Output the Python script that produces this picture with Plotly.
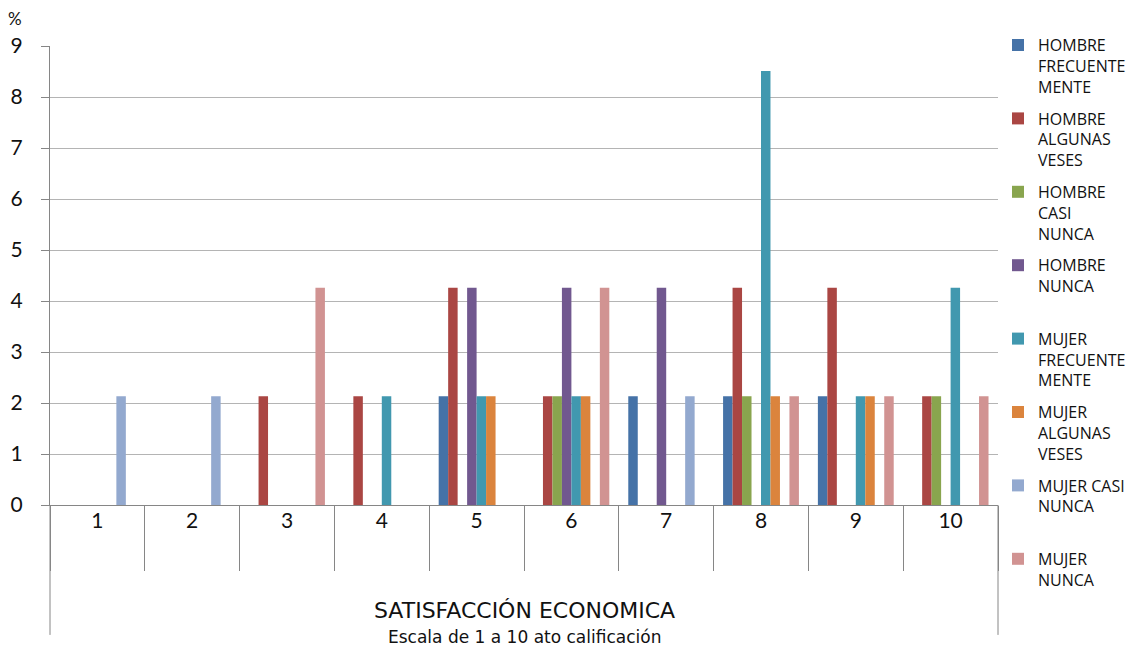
import plotly.graph_objects as go

# Calificaciones (escala de 1 a 10)
categorias = ["1", "2", "3", "4", "5", "6", "7", "8", "9", "10"]

# Porcentaje por grupo y frecuencia
hombre_frecuentemente = [0, 0, 0, 0, 2.13, 0, 2.13, 2.13, 2.13, 0]
hombre_algunas_veses = [0, 0, 2.13, 2.13, 4.26, 2.13, 0, 4.26, 4.26, 2.13]
hombre_casi_nunca = [0, 0, 0, 0, 0, 2.13, 0, 2.13, 0, 2.13]
hombre_nunca = [0, 0, 0, 0, 4.26, 4.26, 4.26, 0, 0, 0]
mujer_frecuentemente = [0, 0, 0, 2.13, 2.13, 2.13, 0, 8.51, 2.13, 4.26]
mujer_algunas_veses = [0, 0, 0, 0, 2.13, 2.13, 0, 2.13, 2.13, 0]
mujer_casi_nunca = [2.13, 2.13, 0, 0, 0, 0, 2.13, 0, 0, 0]
mujer_nunca = [0, 0, 4.26, 0, 0, 4.26, 0, 2.13, 2.13, 2.13]

series = [
    ("HOMBRE<br>FRECUENTE<br>MENTE", hombre_frecuentemente, "#4572A7"),
    ("HOMBRE<br>ALGUNAS<br>VESES", hombre_algunas_veses, "#AA4643"),
    ("HOMBRE<br>CASI<br>NUNCA", hombre_casi_nunca, "#89A54E"),
    ("HOMBRE<br>NUNCA<br> ", hombre_nunca, "#71588F"),
    ("MUJER<br>FRECUENTE<br>MENTE", mujer_frecuentemente, "#4198AF"),
    ("MUJER<br>ALGUNAS<br>VESES", mujer_algunas_veses, "#DB843D"),
    ("MUJER CASI<br>NUNCA<br> ", mujer_casi_nunca, "#93A9CF"),
    ("MUJER<br>NUNCA", mujer_nunca, "#D19392"),
]

FONT = "Lato"
fig = go.Figure()
for i, (nombre, valores, color) in enumerate(series):
    fig.add_trace(go.Bar(
        x=categorias, y=valores, name=nombre, legendgroup=f"g{i}",
        marker=dict(color=color, line=dict(width=0)),
    ))

fig.update_layout(
    width=1135, height=646,
    margin=dict(l=50, r=137, t=46, b=141, autoexpand=False),
    paper_bgcolor="white", plot_bgcolor="white",
    barmode="group", bargap=0.2, bargroupgap=0,
    font=dict(family=FONT, color="#111111"),
    legend=dict(
        x=1.0, xanchor="left", y=1.039, yanchor="top",
        valign="top", tracegroupgap=8, maxheight=640,
        font=dict(family="Open Sans", size=16, color="#111111"),
        bgcolor="rgba(0,0,0,0)",
    ),
    showlegend=True,
)

fig.update_yaxes(
    range=[0, 9], dtick=1, showgrid=True, gridcolor="#b4b4b4", gridwidth=1,
    showline=True, linecolor="#868686", linewidth=1,
    ticks="outside", ticklen=8, tickcolor="#868686",
    tickfont=dict(family=FONT, size=21, color="#111111"),
    ticklabelstandoff=14, zeroline=False,
)
fig.update_xaxes(
    type="category", showline=True, linecolor="#868686", linewidth=1,
    ticks="outside", tickson="boundaries", ticklen=65, tickcolor="#868686",
    tickfont=dict(family=FONT, size=21, color="#111111"),
    ticklabelstandoff=-3, showgrid=False,
)

# Bordes exteriores del eje de categorías
for xb in (0, 1):
    fig.add_shape(type="line", xref="paper", yref="paper",
                  x0=xb, x1=xb, y0=0, y1=-0.283,
                  line=dict(color="#868686", width=1))

fig.add_annotation(text="SATISFACCIÓN ECONOMICA", xref="paper", yref="paper",
                   x=0.5, y=-0.229, showarrow=False, xanchor="center", yanchor="middle",
                   font=dict(family="DejaVu Sans", size=22, color="#111111"))
fig.add_annotation(text="Escala de 1 a 10 ato calificación", xref="paper", yref="paper",
                   x=0.5, y=-0.287, showarrow=False, xanchor="center", yanchor="middle",
                   font=dict(family="DejaVu Sans", size=17, color="#111111"))
fig.add_annotation(text="%", xref="paper", yref="paper",
                   x=-0.037, y=1.061, showarrow=False, xanchor="center", yanchor="middle",
                   font=dict(family=FONT, size=17, color="#111111"))

fig.write_html("out.html")
